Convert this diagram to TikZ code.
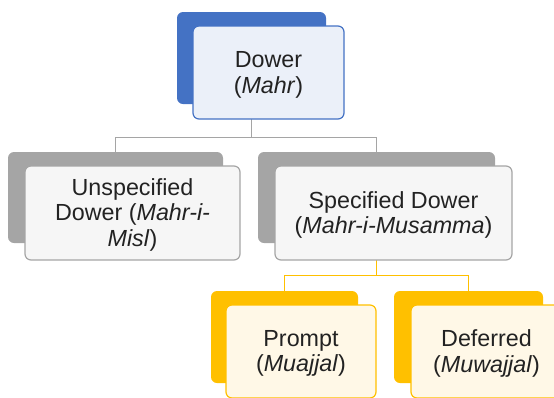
\documentclass[tikz,border=0pt]{standalone}
\usepackage{fontspec}
\setmainfont{Liberation Sans}
\usetikzlibrary{backgrounds}
\definecolor{bluedark}{HTML}{4472C4}
\definecolor{bluelight}{HTML}{EBF0F9}
\definecolor{graydark}{HTML}{A5A5A5}
\definecolor{graylight}{HTML}{F6F6F6}
\definecolor{orangedark}{HTML}{FFC000}
\definecolor{orangelight}{HTML}{FFF8E7}
\definecolor{txt}{HTML}{222222}
\tikzset{
  backbox/.style={rectangle, rounded corners=6pt, inner sep=0pt, minimum width=#1},
  frontbox/.style={rectangle, rounded corners=6pt, inner sep=0pt, line width=1.2pt, minimum width=#1},
  lbl/.style={text=txt, align=center, font=\fontsize{23.3}{25.5}\selectfont, inner sep=0pt},
  conn/.style={line width=1pt}
}
\begin{document}
\begin{tikzpicture}[x=1pt,y=-1pt]
\path[use as bounding box] (0,0) rectangle (554,397);
\clip (0,0) rectangle (554,397);
% Dower
\node[backbox=149pt, minimum height=92pt, fill=bluedark] (dB) at (251.5,58) {};
\node[frontbox=151pt, minimum height=93pt, draw=bluedark, fill=bluelight] (dF) at (268.5,72.5) {};
\node[lbl] (dT) at (268.5,75) {Dower\\(\textit{Mahr})};
% Unspecified
\node[backbox=215pt, minimum height=91pt, fill=graydark] (uB) at (115.5,197.5) {};
\node[frontbox=215pt, minimum height=94pt, draw=graydark, fill=graylight] (uF) at (132.5,213) {};
\node[lbl] (uT) at (132.5,214.5) {Unspecified\\Dower (\textit{Mahr-i-}\\\textit{Misl})};
% Specified
\node[backbox=237pt, minimum height=91pt, fill=graydark] (sB) at (376.5,197.5) {};
\node[frontbox=237pt, minimum height=94pt, draw=graydark, fill=graylight] (sF) at (393.5,213) {};
\node[lbl] (sT) at (393.5,215) {Specified Dower\\(\textit{Mahr-i-Musamma})};
% Prompt
\node[backbox=147pt, minimum height=92pt, fill=orangedark] (pB) at (284.5,337) {};
\node[frontbox=150pt, minimum height=93pt, draw=orangedark, fill=orangelight] (pF) at (301,351.5) {};
\node[lbl] (pT) at (301,353.5) {Prompt\\(\textit{Muajjal})};
% Deferred
\node[backbox=149pt, minimum height=92pt, fill=orangedark] (fB) at (468.5,337) {};
\node[frontbox=151pt, minimum height=93pt, draw=orangedark, fill=orangelight] (fF) at (486.5,351.5) {};
\node[lbl] (fT) at (486.5,353.5) {Deferred\\(\textit{Muwajjal})};
\begin{scope}[on background layer]
\draw[conn, draw=graydark] (dB.south) -- ++(0,33) coordinate (g1) -| (uB.north);
\draw[conn, draw=graydark] (g1) -| (sB.north);
\draw[conn, draw=orangedark] (sB.south) -- ++(0,32) coordinate (o1) -| (pB.north);
\draw[conn, draw=orangedark] (o1) -| (fB.north);
\end{scope}
\end{tikzpicture}
\end{document}
